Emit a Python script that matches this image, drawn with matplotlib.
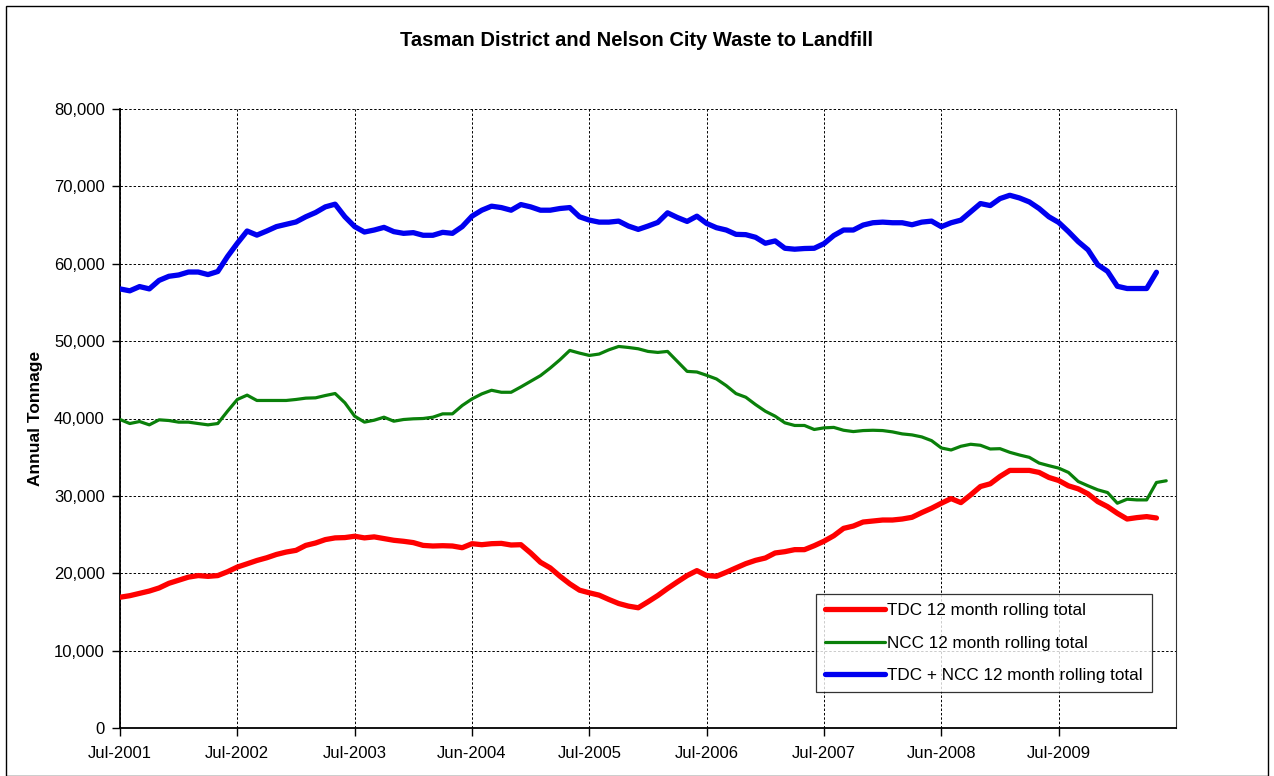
import matplotlib
matplotlib.use("Agg")
import matplotlib.pyplot as plt
from matplotlib.patches import Rectangle

plt.rcParams['font.family'] = ['Liberation Sans', 'DejaVu Sans']

tick_labels = ["Jul-2001", "Jul-2002", "Jul-2003", "Jun-2004", "Jul-2005",
               "Jul-2006", "Jul-2007", "Jun-2008", "Jul-2009"]

tdc = [16900, 17100, 17400, 17700, 18100, 18700, 19100, 19500, 19700, 19600,
       19700, 20200, 20800, 21220, 21650, 22000, 22430, 22740, 22960, 23600,
       23910, 24350, 24570, 24610, 24780, 24570, 24700, 24480, 24260, 24130,
       23960, 23600, 23520, 23560, 23520, 23300, 23820, 23690, 23820, 23860,
       23650, 23690, 22620, 21420, 20690, 19610, 18630, 17810, 17470, 17170,
       16610, 16090, 15750, 15540, 16310, 17120, 18030, 18880, 19700, 20340,
       19700, 19610, 20130, 20690, 21240, 21670, 21970, 22620, 22790, 23050,
       23050, 23560, 24140, 24850, 25800, 26100, 26620, 26750, 26880, 26880,
       27010, 27230, 27840, 28400, 29050, 29650, 29130, 30130, 31210, 31560,
       32510, 33290, 33290, 33290, 33030, 32380, 31990, 31300, 30910, 30260,
       29260, 28610, 27750, 27010, 27190, 27320, 27140]

ncc = [39870, 39350, 39610, 39180, 39830, 39740, 39530, 39530, 39350, 39180,
       39350, 40950, 42460, 43020, 42330, 42330, 42330, 42330, 42460, 42630,
       42670, 42970, 43230, 42030, 40300, 39530, 39780, 40170, 39650, 39870,
       39960, 40000, 40170, 40600, 40600, 41680, 42530, 43180, 43650, 43390,
       43390, 44080, 44810, 45540, 46520, 47600, 48800, 48450, 48150, 48330,
       48880, 49310, 49180, 49010, 48670, 48540, 48670, 47380, 46090, 46010,
       45580, 45110, 44250, 43220, 42750, 41800, 40940, 40300, 39440, 39100,
       39100, 38580, 38790, 38850, 38480, 38310, 38440, 38480, 38440, 38270,
       38010, 37880, 37620, 37140, 36190, 35930, 36410, 36670, 36540, 36060,
       36100, 35630, 35280, 34980, 34240, 33900, 33590, 33030, 31860, 31300,
       30780, 30430, 29050, 29570, 29480, 29480, 31730, 31950]

total = [56750, 56500, 57050, 56750, 57850, 58380, 58550, 58930, 58930, 58600,
         59000, 60940, 62650, 64230, 63700, 64230, 64800, 65100, 65400, 66070,
         66620, 67350, 67700, 66070, 64800, 64100, 64360, 64700, 64150, 63930,
         64020, 63680, 63680, 64060, 63930, 64800, 66150, 66920, 67440, 67260,
         66920, 67650, 67350, 66920, 66920, 67140, 67260, 66070, 65640, 65380,
         65380, 65510, 64870, 64440, 64870, 65340, 66580, 65980, 65470, 66150,
         65210, 64660, 64360, 63800, 63760, 63420, 62650, 62950, 62000, 61880,
         61970, 62000, 62600, 63650, 64360, 64360, 65000, 65300, 65380, 65300,
         65300, 65040, 65380, 65510, 64790, 65300, 65640, 66710, 67780, 67520,
         68420, 68850, 68500, 67990, 67140, 66070, 65340, 64150, 62860, 61800,
         59870, 59020, 57090, 56800, 56800, 56800, 58900]

W, H = 1274, 776
fig = plt.figure(figsize=(W / 100, H / 100), dpi=100)
fig.patches.append(Rectangle((6 / W, 0), (W - 12) / W, (H - 6) / H,
                             transform=fig.transFigure, fill=False,
                             edgecolor='black', linewidth=1.0))

left, right, top, bottom = 120, 1176, 109, 728
ax = fig.add_axes([left / W, 1 - bottom / H, (right - left) / W, (bottom - top) / H])

ax.plot(range(len(tdc)), tdc, color='#ff0000', lw=3.8, solid_capstyle='round',
        label='TDC 12 month rolling total', zorder=3)
ax.plot(range(len(ncc)), ncc, color='#0a800a', lw=2.3, solid_capstyle='round',
        label='NCC 12 month rolling total', zorder=3)
ax.plot(range(len(total)), total, color='#0000f0', lw=3.8, solid_capstyle='round',
        label='TDC + NCC 12 month rolling total', zorder=3)

ax.set_xlim(0, 108)
ax.set_ylim(0, 80000)
ax.set_xticks(range(0, 97, 12))
ax.set_xticklabels(tick_labels, fontsize=12)
ax.set_yticks(range(0, 80001, 10000))
ax.set_yticklabels([f"{v:,}" for v in range(0, 80001, 10000)], fontsize=12)
ax.tick_params(axis='both', direction='out', length=6, width=1, colors='black')
ax.tick_params(axis='y', pad=5)
ax.tick_params(axis='x', pad=7)

ax.grid(True, color='black', linestyle=(0, (2.5, 2)), linewidth=0.7, zorder=1)
for s in ['left', 'bottom']:
    ax.spines[s].set_linewidth(1.3)
    ax.spines[s].set_color('black')
ax.spines['right'].set_linewidth(0.8)
ax.spines['right'].set_color('#333333')
ax.spines['top'].set_visible(False)

ax.set_ylabel('Annual Tonnage', fontsize=12.5, fontweight='bold', labelpad=8)
fig.text(0.5, 1 - 40 / H, 'Tasman District and Nelson City Waste to Landfill',
         ha='center', va='center', fontsize=14.5, fontweight='bold')

leg = ax.legend(loc='lower right', bbox_to_anchor=((1152 - left) / (right - left),
                                                   (bottom - 692) / (bottom - top)),
                fontsize=12.3, frameon=True, fancybox=False, edgecolor='black',
                handlelength=3.5, handletextpad=0.1, labelspacing=1.0,
                borderpad=0.55, borderaxespad=0)
leg.get_frame().set_linewidth(0.9)

fig.savefig('out.png', dpi=100)
